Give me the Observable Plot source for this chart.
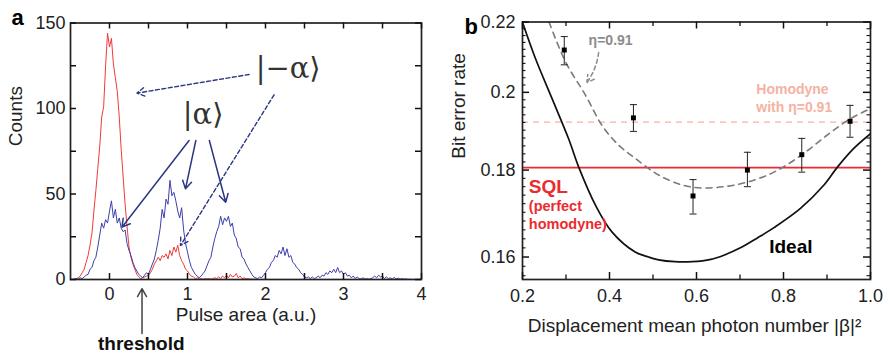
<!DOCTYPE html>
<html><head><meta charset="utf-8">
<script src="https://cdn.jsdelivr.net/npm/d3@7"></script>
<script src="https://cdn.jsdelivr.net/npm/@observablehq/plot@0.6"></script>
<style>
body{margin:0;background:#fff;}
#wrap{display:flex;width:894px;height:359px;overflow:hidden;background:#fff;}
#wrap svg{overflow:visible;flex:none;}
</style></head><body><div id="wrap"></div>
<script>
// ---------- Panel a: pulse-area histograms (bin start / width, counts per bin) ----------
const binStart = -0.5, binWidth = 0.025;
const blueCounts = [
0,0,0,0.5,0.3,1,0.5,1.5,2.5,3,6,7,11,13,19,26,33,30,35,33,
40,46,36,41,33,36,30,28,29,21,17,14,10,7,5,3,2,1,2.5,4,
3,6,9,12,17,23,30,41,36,47,44,58,49,51,46,40,36,42,29,21,
16,11,7,5,3,2,1,2,3.5,5,8,11,13,19,24,28,31,37,32,36,
34,37,31,33,26,24,19,18,13,12,9,7,5,3,1.5,1,0.5,1.5,1,2.5,
4,6,7,10,11,14,13,17,15,19,14,18,13,14,10,9,7,6,4,3,
1.5,1,1.5,0.5,1.5,0.5,1,2,1,2.5,2,4,3,5,4,6,4,7,4,5,
3,4,2,2.5,1,2,0.5,1.5,0.5,0.3,1,0.3,0.5,0.2,0.5,1,2,1,2.5,1.5,
2,0.5,1.5,0.5,1,0.3,1.2,0.3,0.8,0.2,0.5,0.2,0.4,0.1,0.2,0,0.1,0,0,0,0];
const redCounts = [
0,0,0.3,0.5,1,2,4,6,10,14,20,27,40,52,65,78,95,101,125,144,
136,141,126,118,110,95,76,60,44,31,19,13,9,6,3,1.5,0.5,1,1.5,2,
2.5,4,6,9,11,13,11,14,13,15,12,17,14,19,16,20,14,11,9,6,
5,3,2,1.5,0.5,1,0.3,0.5,0.2,0.5,0.3,0.5,0.2,0.5,1,0.5,1.5,0.5,2,1,
2.5,1,3,1.5,2,3.5,1,2,0.5,1,0.3,0.5,0.2,0.3,0.1,0.2,0,0,0,0,
0,0,0,0,0,0,0,0,0,0,0,0,0];
const xMajorA = [0, 1, 2, 3, 4];
const xMinorA = [0.5, 1.5, 2.5, 3.5];
const yMajorA = [0, 50, 100, 150];
const yMinorA = [25, 75, 125];
const stateLabels = [{text: "|−α⟩", x: 2.29, y: 123}, {text: "|α⟩", x: 1.2, y: 96.5}];
const dashedArrows = [{x1: 1.79, y1: 119.9, x2: 0.353, y2: 109}, {x1: 2.11, y1: 108, x2: 0.91, y2: 19.9}];
const solidArrows = [{x1: 1.02, y1: 81.3, x2: 0.16, y2: 30.6}, {x1: 1.107, y1: 81.3, x2: 0.974, y2: 53}, {x1: 1.28, y1: 81.3, x2: 1.49, y2: 45.2}];
const thresholdArrow = [{x1: 0.417, y1: -31.6, x2: 0.417, y2: -5.4}];
const thresholdLabel = [{text: "threshold", x: 0.408, y: -37.4}];

// ---------- Panel b: bit error rate ----------
const idealX = [0.2, 0.23, 0.268, 0.306, 0.329, 0.368, 0.406, 0.459, 0.49, 0.513, 0.55, 0.59, 0.633, 0.663, 0.701, 0.740, 0.778, 0.839, 0.893, 0.923, 0.961, 1.0];
const idealY = [0.2199, 0.2093, 0.1983, 0.1878, 0.1808, 0.1716, 0.1655, 0.1611, 0.1600, 0.1594, 0.1590, 0.1590, 0.1595, 0.1604, 0.1620, 0.1642, 0.1665, 0.1709, 0.1764, 0.1806, 0.1853, 0.1891];
const fitX = [0.261, 0.299, 0.345, 0.383, 0.421, 0.459, 0.513, 0.567, 0.610, 0.663, 0.717, 0.778, 0.840, 0.900, 0.954, 1.0];
const fitY = [0.22, 0.2084, 0.1992, 0.1912, 0.1862, 0.1829, 0.1788, 0.1764, 0.1757, 0.1760, 0.1771, 0.1795, 0.1836, 0.1887, 0.1930, 0.1956];
const measX = [0.296, 0.455, 0.592, 0.717, 0.842, 0.953];
const measY = [0.2118, 0.1932, 0.1738, 0.1800, 0.1838, 0.1923];
const measLo = [0.2076, 0.1897, 0.1696, 0.1760, 0.1795, 0.1882];
const measHi = [0.2157, 0.1967, 0.1777, 0.1844, 0.1879, 0.1965];
const sqlLevel = 0.1806;
const homodyneLevel = 0.1921;
const xMajorB = [0.2, 0.4, 0.6, 0.8, 1.0];
const xMinorB = [0.3, 0.5, 0.7, 0.9];
const yMajorB = [0.16, 0.18, 0.2, 0.22];
const yMinorB = [0.156,0.158,0.162,0.164,0.166,0.168,0.17,0.172,0.174,0.176,0.178,0.182,0.184,0.186,0.188,0.19,0.192,0.194,0.196,0.198,0.202,0.204,0.206,0.208,0.21,0.212,0.214,0.216,0.218];

// ---------- build tables ----------
const blueBins = blueCounts.map((c, i) => ({x: binStart + i * binWidth, y: c}));
const redBins = redCounts.map((c, i) => ({x: binStart + i * binWidth, y: c}));
const ideal = idealX.map((x, i) => ({x, y: idealY[i]}));
const fit = fitX.map((x, i) => ({x, y: fitY[i]}));
const meas = measX.map((x, i) => ({x, y: measY[i], lo: measLo[i], hi: measHi[i]}));

const FONT = "'Liberation Sans', Arial, Helvetica, sans-serif";
const INK = "#222";
const NAVY = "#2b3684";
const capSymbol = {draw(ctx, size) { const w = Math.sqrt(size / Math.PI); ctx.moveTo(-w, 0); ctx.lineTo(w, 0); }};

// inward ticks on all four sides, as short rules inset from the frame (ih/iw = inner size)
function inwardTicksX(values, len, ih, sw) {
  return [
    Plot.ruleX(values, {x: d => d, insetTop: ih - len, stroke: "#111", strokeWidth: sw}),
    Plot.ruleX(values, {x: d => d, insetBottom: ih - len, stroke: "#111", strokeWidth: sw})
  ];
}
function inwardTicksY(values, len, iw, sw) {
  return [
    Plot.ruleY(values, {y: d => d, insetRight: iw - len, stroke: "#111", strokeWidth: sw}),
    Plot.ruleY(values, {y: d => d, insetLeft: iw - len, stroke: "#111", strokeWidth: sw})
  ];
}

const A = {width: 440, height: 359, ml: 70, mr: 19, mt: 22.5, mb: 80};
const B = {width: 454, height: 359, ml: 82, mr: 24, mt: 21.5, mb: 80};
const ihA = A.height - A.mt - A.mb, iwA = A.width - A.ml - A.mr;
const ihB = B.height - B.mt - B.mb, iwB = B.width - B.ml - B.mr;

const plotA = Plot.plot({
  width: A.width, height: A.height,
  marginLeft: A.ml, marginRight: A.mr, marginTop: A.mt, marginBottom: A.mb,
  style: {fontFamily: FONT, fontSize: "18px", color: INK, background: "#fff", overflow: "visible"},
  x: {domain: [-0.5, 4]},
  y: {domain: [0, 150]},
  marks: [
    Plot.line(redBins, {x: "x", y: "y", stroke: "#f03a3a", strokeWidth: 1}),
    Plot.line(blueBins, {x: "x", y: "y", stroke: "#3d40ad", strokeWidth: 1}),
    Plot.frame({stroke: INK, strokeWidth: 1.7}),
    ...inwardTicksX(xMajorA.concat(xMinorA), 6, ihA, 1.5),
    ...inwardTicksY(yMajorA.concat(yMinorA), 6, iwA, 1.5),
    Plot.axisX(xMajorA, {anchor: "bottom", tickSize: 0, tickPadding: 7.5, label: null, fontSize: 18}),
    Plot.axisY(yMajorA, {anchor: "left", tickSize: 0, tickPadding: 5, label: null, fontSize: 18}),
    Plot.arrow(dashedArrows, {x1: "x1", y1: "y1", x2: "x2", y2: "y2", stroke: NAVY, strokeWidth: 1.4, strokeDasharray: "4,2.5", headLength: 9}),
    Plot.arrow(solidArrows, {x1: "x1", y1: "y1", x2: "x2", y2: "y2", stroke: NAVY, strokeWidth: 1.5, headLength: 9}),
    Plot.text(stateLabels, {x: "x", y: "y", text: "text", fontSize: 29, fontFamily: "'DejaVu Serif', 'Liberation Serif', serif", fill: "#333"}),
    Plot.arrow(thresholdArrow, {x1: "x1", y1: "y1", x2: "x2", y2: "y2", stroke: "#444", strokeWidth: 1.5, headLength: 9}),
    Plot.text(thresholdLabel, {x: "x", y: "y", text: "text", fontSize: 19, fontWeight: "bold", fill: "#111"}),
    Plot.text(["Counts"], {text: d => d, frameAnchor: "left", rotate: -90, dx: -55, dy: -5, fontSize: 19}),
    Plot.text(["Pulse area (a.u.)"], {text: d => d, frameAnchor: "bottom", dy: 41, fontSize: 19}),
    Plot.text(["a"], {text: d => d, frameAnchor: "top-left", dx: -59, dy: -13.5, fontSize: 22, fontWeight: "bold", fill: "#000"})
  ]
});

const plotB = Plot.plot({
  width: B.width, height: B.height,
  marginLeft: B.ml, marginRight: B.mr, marginTop: B.mt, marginBottom: B.mb,
  style: {fontFamily: FONT, fontSize: "18px", color: INK, background: "#fff", overflow: "visible"},
  x: {domain: [0.2, 1.0]},
  y: {type: "log", domain: [0.1552, 0.22]},
  marks: [
    Plot.ruleY([homodyneLevel], {stroke: "#f5b2a2", strokeWidth: 1.3, strokeDasharray: "6,5"}),
    Plot.ruleY([sqlLevel], {stroke: "#ea2b30", strokeWidth: 1.6}),
    Plot.line(fit, {x: "x", y: "y", stroke: "#7a7a7a", strokeWidth: 1.6, strokeDasharray: "6,5", curve: "catmull-rom", clip: true}),
    Plot.line(ideal, {x: "x", y: "y", stroke: "#111", strokeWidth: 1.7, curve: "catmull-rom", clip: true}),
    Plot.ruleX(meas, {x: "x", y1: "lo", y2: "hi", stroke: INK, strokeWidth: 1}),
    Plot.dot(meas, {x: "x", y: "lo", symbol: capSymbol, r: 3.5, stroke: INK, fill: "none", strokeWidth: 1}),
    Plot.dot(meas, {x: "x", y: "hi", symbol: capSymbol, r: 3.5, stroke: INK, fill: "none", strokeWidth: 1}),
    Plot.dot(meas, {x: "x", y: "y", symbol: "square", r: 2.8, fill: "#000"}),
    Plot.frame({stroke: INK, strokeWidth: 1.7}),
    ...inwardTicksX(xMajorB, 7, ihB, 1.5),
    ...inwardTicksX(xMinorB, 4.5, ihB, 1.3),
    ...inwardTicksY(yMajorB, 7, iwB, 1.5),
    ...inwardTicksY(yMinorB, 3.5, iwB, 1.1),
    Plot.axisX(xMajorB, {anchor: "bottom", tickSize: 0, tickPadding: 9.5, label: null, fontSize: 18, tickFormat: d => d.toFixed(1)}),
    Plot.axisY(yMajorB, {anchor: "left", tickSize: 0, tickPadding: 7, label: null, fontSize: 18, tickFormat: d => String(+d.toFixed(2))}),
    Plot.text(["η=0.91"], {text: d => d, x: 0.352, y: 0.2146, textAnchor: "start", fontSize: 14, fontWeight: "bold", fill: "#8c8c8c"}),
    Plot.arrow([{x1: 0.375, y1: 0.2111, x2: 0.348, y2: 0.2027}], {x1: "x1", y1: "y1", x2: "x2", y2: "y2", stroke: "#8c8c8c", strokeWidth: 1.5, strokeDasharray: "4,3", bend: 15, headLength: 8}),
    Plot.text(["Homodyne\nwith η=0.91"], {text: d => d, x: 0.7375, y: 0.1986, textAnchor: "start", lineHeight: 1.24, fontSize: 14, fontWeight: "bold", fill: "#f5b2a2"}),
    Plot.text(["SQL"], {text: d => d, x: 0.2145, y: 0.1759, textAnchor: "start", fontSize: 19, fontWeight: "bold", fill: "#ea2b30"}),
    Plot.text(["(perfect\nhomodyne)"], {text: d => d, x: 0.2145, y: 0.1696, textAnchor: "start", lineHeight: 1.26, fontSize: 14.5, fontWeight: "bold", fill: "#ea2b30"}),
    Plot.text(["Ideal"], {text: d => d, x: 0.817, y: 0.1623, fontSize: 19, fontWeight: "bold", fill: "#000"}),
    Plot.text(["Bit error rate"], {text: d => d, frameAnchor: "left", rotate: -90, dx: -64, dy: 8, fontSize: 19}),
    Plot.text(["Displacement mean photon number |β|²"], {text: d => d, frameAnchor: "bottom", dx: -2, dy: 52.7, fontSize: 19}),
    Plot.text(["b"], {text: d => d, frameAnchor: "top-left", dx: -58, dy: -3.5, fontSize: 22, fontWeight: "bold", fill: "#000"})
  ]
});

const wrap = document.getElementById("wrap");
wrap.appendChild(plotA);
wrap.appendChild(plotB);
</script></body></html>
